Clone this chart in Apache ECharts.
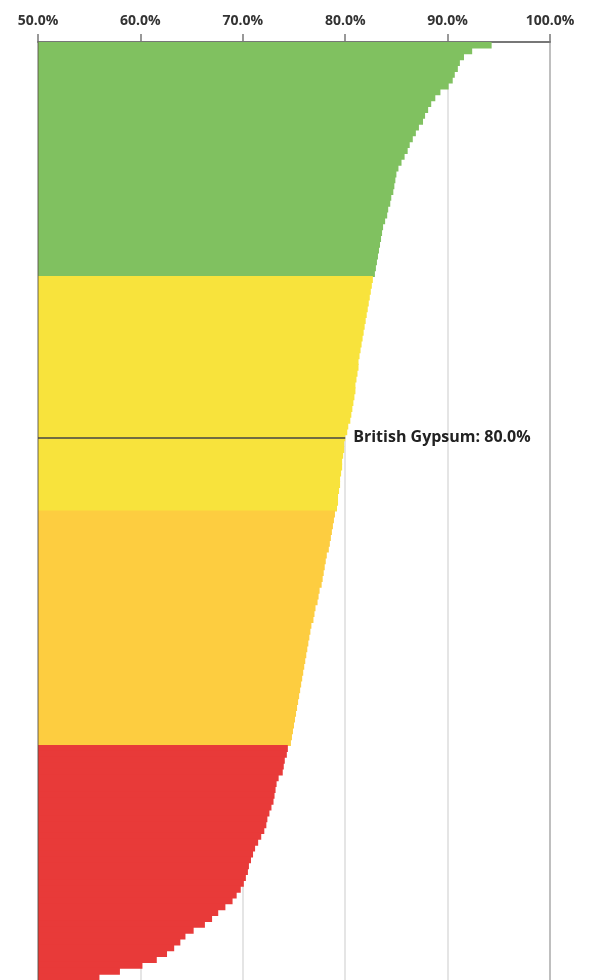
<!DOCTYPE html>
<html>
<head>
<meta charset="utf-8">
<script src="https://cdn.jsdelivr.net/npm/echarts@6/dist/echarts.min.js"></script>
<style>
  html, body { margin: 0; padding: 0; background: #fff; }
  #chart { width: 591px; height: 980px; }
</style>
</head>
<body>
<div id="chart"></div>
<script>
// share of waste sent to recycling, one bar per company, sorted high to low
var quartileValues = [
    // top quartile
    94.3, 92.4, 91.6, 91.2, 91.0, 90.7, 90.5, 90.1, 89.3, 88.8,
    88.4, 88.1, 87.8, 87.6, 87.2, 86.9, 86.6, 86.3, 86.1, 85.8,
    85.5, 85.2, 85.0, 84.9, 84.8, 84.7, 84.5, 84.4, 84.2, 84.1,
    83.9, 83.7, 83.6, 83.5, 83.4, 83.3, 83.2, 83.1, 83.0, 82.9,
    // second quartile
    82.7, 82.6, 82.5, 82.4, 82.3, 82.2, 82.1, 82.0, 81.9, 81.8,
    81.7, 81.6, 81.5, 81.4, 81.3, 81.3, 81.2, 81.1, 81.0, 81.0,
    80.9, 80.8, 80.7, 80.6, 80.5, 80.3, 80.2, 80.0, 79.9, 79.9,
    79.8, 79.7, 79.7, 79.6, 79.5, 79.5, 79.4, 79.3, 79.3, 79.2,
    // third quartile
    79.0, 78.9, 78.8, 78.7, 78.6, 78.5, 78.4, 78.2, 78.1, 78.0,
    77.9, 77.8, 77.7, 77.5, 77.4, 77.3, 77.1, 77.0, 76.9, 76.7,
    76.6, 76.5, 76.4, 76.3, 76.2, 76.1, 76.0, 75.9, 75.8, 75.7,
    75.6, 75.5, 75.4, 75.3, 75.2, 75.1, 75.0, 74.9, 74.8, 74.7,
    // bottom quartile
    74.4, 74.3, 74.1, 74.0, 73.9, 73.5, 73.3, 73.2, 73.1, 73.0,
    72.8, 72.6, 72.4, 72.3, 72.1, 71.8, 71.5, 71.2, 71.0, 70.8,
    70.6, 70.5, 70.3, 70.1, 69.8, 69.4, 69.0, 68.3, 67.6, 67.0,
    66.3, 65.2, 64.4, 63.9, 63.3, 62.6, 61.6, 60.2, 58.0, 56.0
];
var quartileColors = ['#80c160', '#f8e33c', '#fdcd40', '#e83a39'];
var highlightName = 'British Gypsum';
var highlightIndex = 67;
var highlightValue = 80.0;
var xTicks = [50, 60, 70, 80, 90, 100];

var companies = quartileValues.map(function (v, i) {
    return i === highlightIndex ? highlightName : 'Company ' + (i + 1);
});

var perQuartile = quartileValues.length / 4;
var barData = quartileValues.map(function (v, i) {
    return { value: v, itemStyle: { color: quartileColors[Math.floor(i / perQuartile)] } };
});

var chart = echarts.init(document.getElementById('chart'));
var option = {
    animation: false,
    grid: { left: 38, right: 41, top: 42, bottom: 0 },
    xAxis: {
        type: 'value',
        position: 'top',
        min: xTicks[0],
        max: xTicks[xTicks.length - 1],
        interval: 10,
        axisLine: { show: true, lineStyle: { color: '#777', width: 2 } },
        axisTick: { show: true, length: 8, lineStyle: { color: '#777', width: 1.5 } },
        axisLabel: {
            margin: 14,
            fontFamily: 'Open Sans',
            fontWeight: 'bold',
            fontSize: 14,
            color: '#333',
            formatter: function (v) { return v.toFixed(1) + '%'; }
        },
        splitLine: {
            show: true,
            lineStyle: { color: ['#999', '#ddd', '#ddd', '#ddd', '#ddd', '#aaa'], width: 1.5 }
        }
    },
    yAxis: {
        type: 'category',
        inverse: true,
        data: companies,
        z: 3,
        axisLine: { show: true, lineStyle: { color: 'rgba(90,80,60,0.45)', width: 1 } },
        axisTick: { show: false },
        axisLabel: { show: false }
    },
    series: [{
        type: 'bar',
        data: barData,
        // a little wider than the band so neighbouring bars overlap, no seams
        barWidth: 7,
        barGap: '-100%',
        markLine: {
            silent: true,
            symbol: ['none', 'none'],
            lineStyle: { color: '#444', width: 1.5, type: 'solid' },
            label: {
                show: true,
                position: 'end',
                distance: 8,
                fontFamily: 'Open Sans',
                fontWeight: 'bold',
                fontSize: 16,
                color: '#222',
                formatter: highlightName + ': ' + highlightValue.toFixed(1) + '%'
            },
            data: [[
                { coord: [xTicks[0], highlightIndex] },
                { coord: [highlightValue, highlightIndex] }
            ]]
        }
    }]
};
chart.setOption(option);
</script>
</body>
</html>
